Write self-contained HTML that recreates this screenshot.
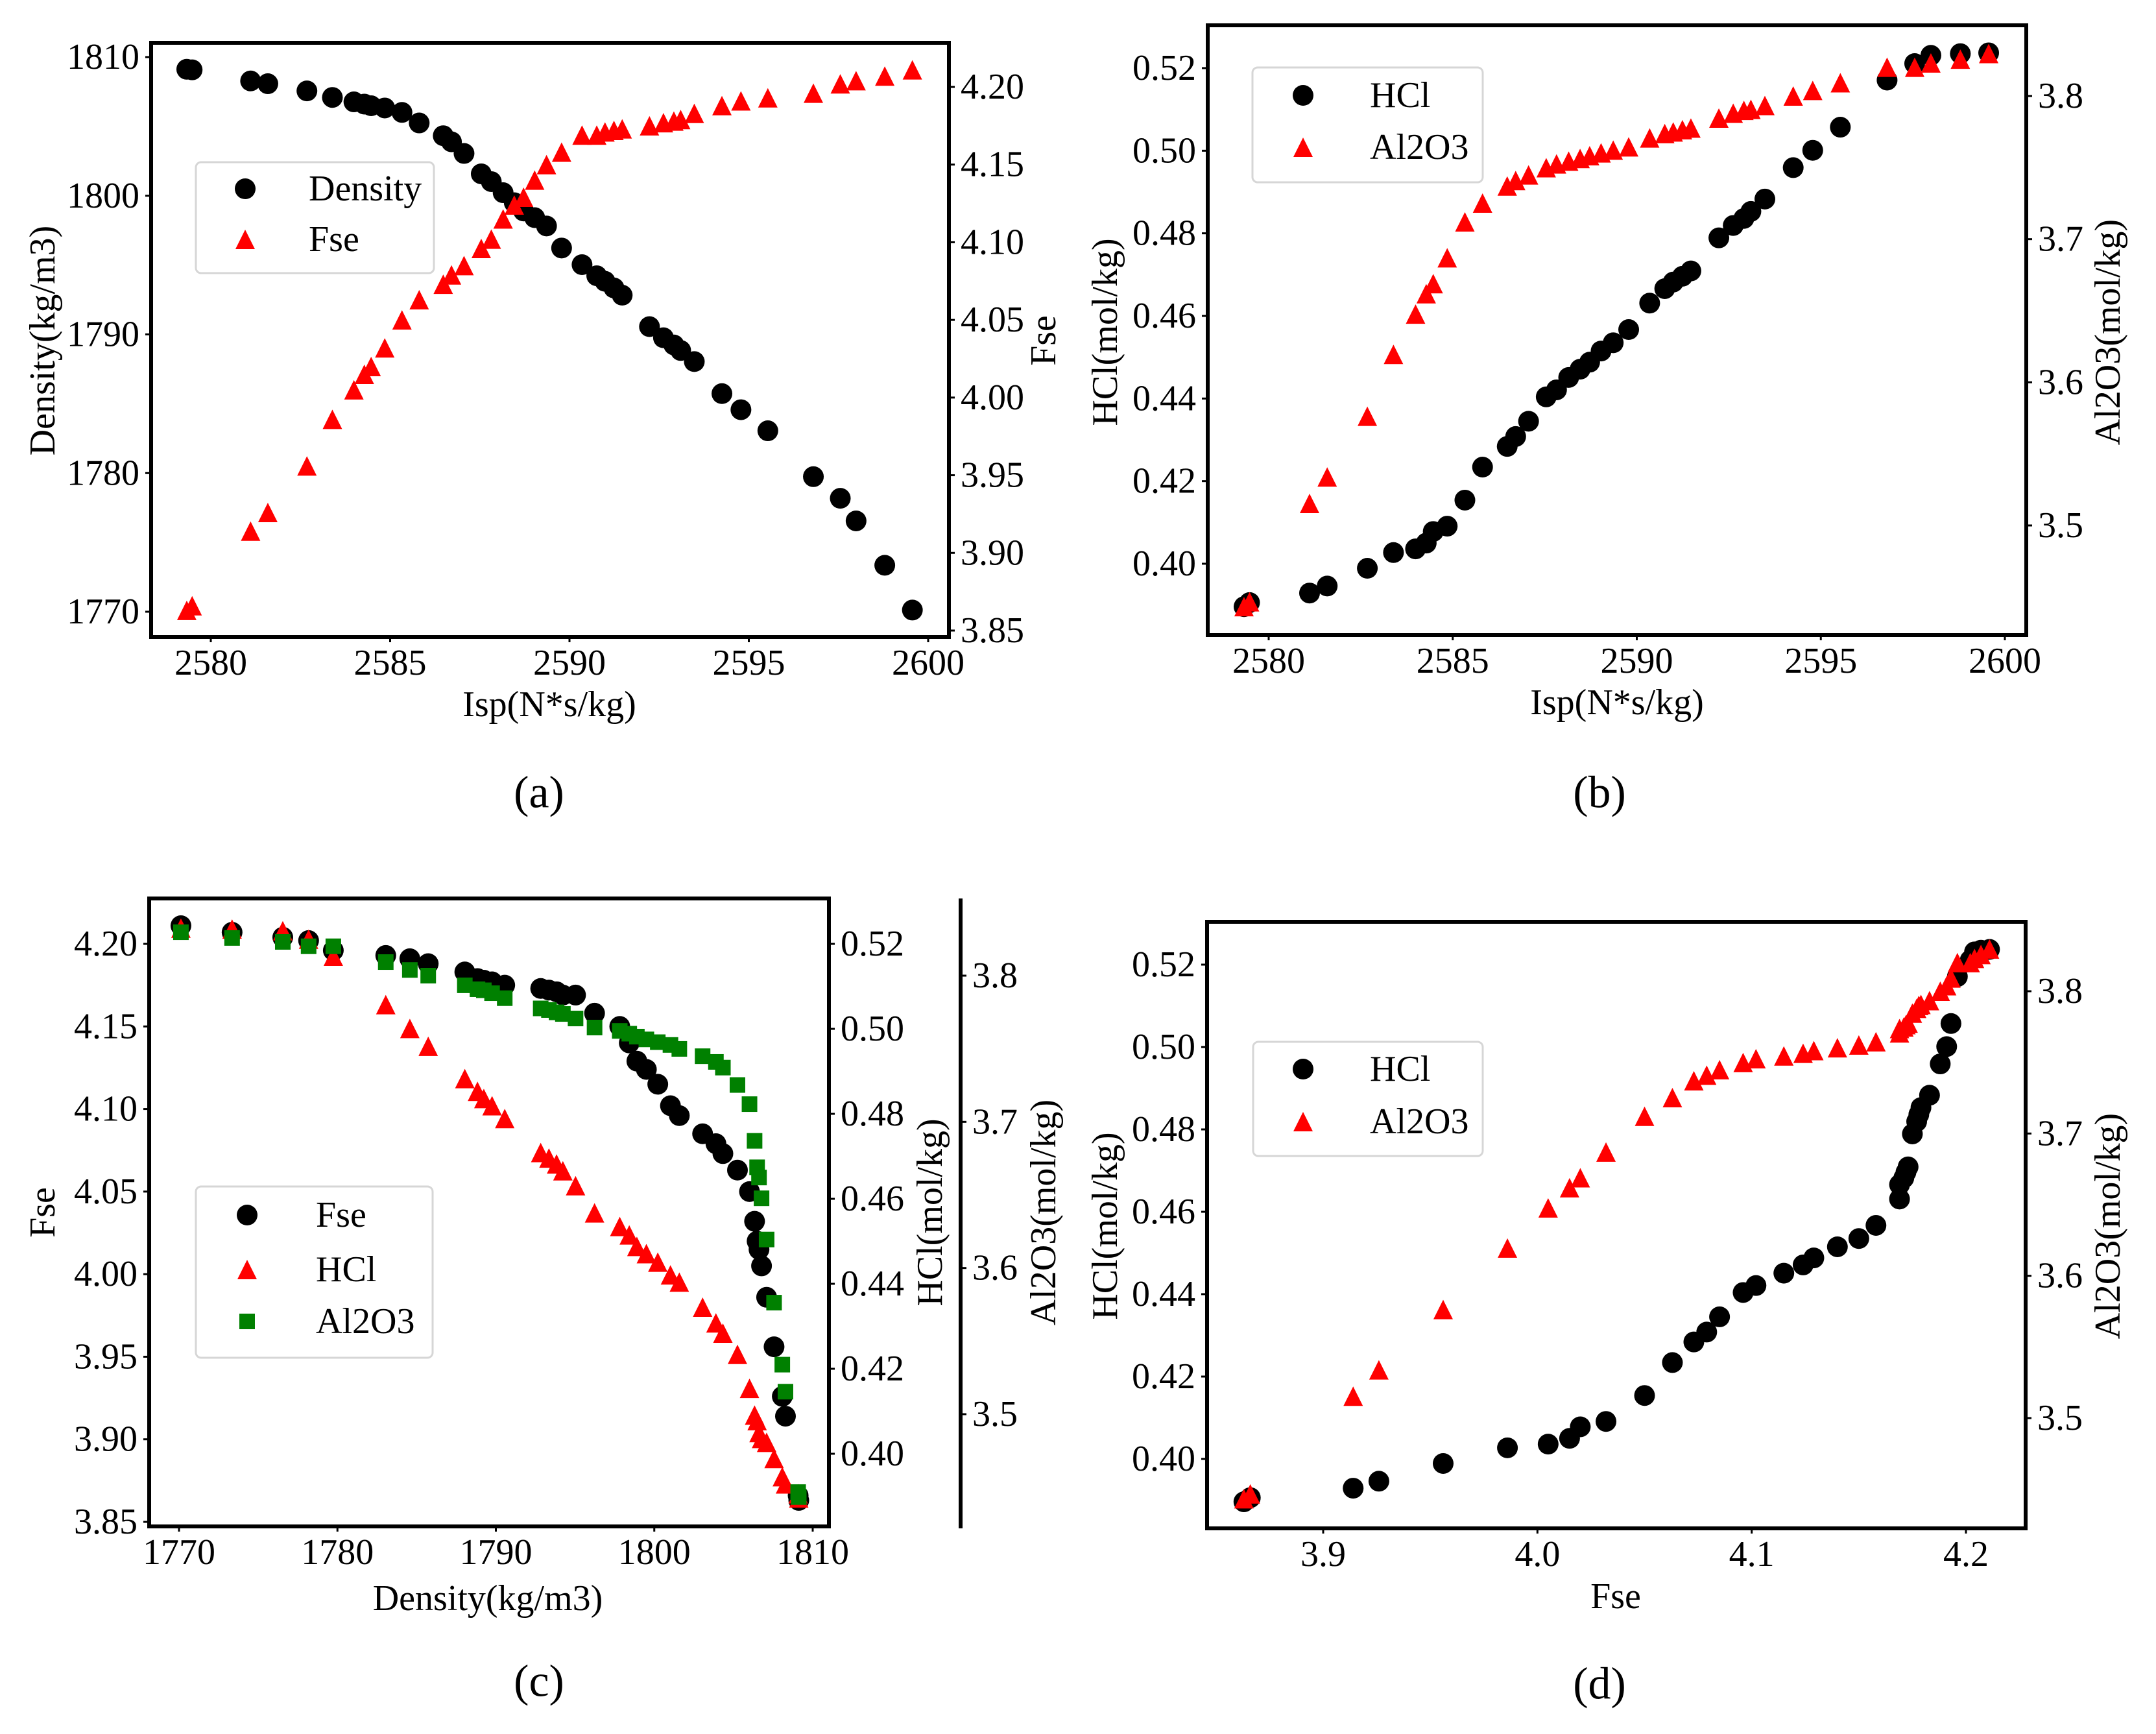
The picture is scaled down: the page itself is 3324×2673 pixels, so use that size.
<!DOCTYPE html>
<html><head><meta charset="utf-8"><style>
html,body{margin:0;padding:0;background:#fff}
svg{display:block;font-family:"Liberation Serif","DejaVu Serif",serif}
svg text{font-family:"Liberation Serif","DejaVu Serif",serif}
</style></head><body>
<svg id="fig" xmlns="http://www.w3.org/2000/svg" width="3324" height="2673" viewBox="0 0 3324 2673" font-family="Liberation Serif, serif">
<rect width="3324" height="2673" fill="#fff"/>
</svg>
<script>
// ---- data (41 design points, sorted by Isp) ----
const isp = [2579.33,2579.48,2581.11,2581.59,2582.68,2583.39,2583.99,2584.28,2584.47,2584.85,2585.33,2585.81,2586.48,2586.71,2587.06,2587.54,2587.82,2588.15,2588.46,2588.72,2589.03,2589.36,2589.78,2590.35,2590.76,2590.99,2591.24,2591.47,2592.23,2592.62,2592.91,2593.10,2593.48,2594.25,2594.78,2595.53,2596.80,2597.55,2597.99,2598.79,2599.56];
const density = [1809.12,1809.08,1808.28,1808.08,1807.56,1807.09,1806.77,1806.61,1806.49,1806.33,1806.01,1805.25,1804.33,1803.89,1803.05,1801.58,1801.02,1800.22,1799.50,1798.90,1798.42,1797.82,1796.23,1795.03,1794.23,1793.83,1793.35,1792.83,1790.56,1789.76,1789.24,1788.84,1788.04,1785.73,1784.57,1783.05,1779.74,1778.18,1776.55,1773.35,1770.12];
const fse = [3.863,3.866,3.914,3.926,3.956,3.986,4.005,4.015,4.020,4.032,4.050,4.063,4.073,4.079,4.085,4.096,4.102,4.115,4.124,4.129,4.140,4.150,4.158,4.169,4.169,4.171,4.172,4.173,4.175,4.177,4.178,4.179,4.183,4.188,4.191,4.193,4.196,4.202,4.204,4.207,4.211];
const hcl = [0.3896,0.3906,0.3929,0.3946,0.3989,0.4027,0.4036,0.4050,0.4078,0.4091,0.4154,0.4234,0.4284,0.4308,0.4345,0.4404,0.4421,0.4451,0.4471,0.4488,0.4515,0.4535,0.4567,0.4631,0.4666,0.4682,0.4696,0.4709,0.4789,0.4819,0.4836,0.4853,0.4883,0.4959,0.5001,0.5057,0.5171,0.5211,0.5231,0.5235,0.5237];
const al2o3 = [3.4433,3.4467,3.5154,3.5339,3.5763,3.6195,3.6477,3.6619,3.6689,3.6870,3.7121,3.7252,3.7371,3.7410,3.7449,3.7499,3.7526,3.7545,3.7564,3.7583,3.7603,3.7622,3.7645,3.7707,3.7738,3.7749,3.7765,3.7776,3.7846,3.7880,3.7900,3.7907,3.7934,3.8000,3.8039,3.8093,3.8201,3.8201,3.8231,3.8258,3.8297];
// ---- tick labels ----
const ispTicks = [2580,2585,2590,2595,2600];
const densityTicks = [1770,1780,1790,1800,1810];
const fseTicks = [3.85,3.90,3.95,4.00,4.05,4.10,4.15,4.20];
const fseTicksD = [3.9,4.0,4.1,4.2];
const hclTicks = [0.40,0.42,0.44,0.46,0.48,0.50,0.52];
const al2o3Ticks = [3.5,3.6,3.7,3.8];

const NS = "http://www.w3.org/2000/svg";
const svg = document.getElementById('fig');
function el(tag, attrs, parent){
  const e = document.createElementNS(NS, tag);
  for (const k in attrs) e.setAttribute(k, attrs[k]);
  (parent||svg).appendChild(e);
  return e;
}
function scale(v0,p0,v1,p1){ return v => p0 + (v - v0) * (p1 - p0) / (v1 - v0); }
const FS = 56;

function txt(parent, x, y, s, anchor, size, rot){
  const t = el('text', {x:x, y:y, 'font-size':size||FS, 'font-family':'Liberation Serif, serif', 'text-anchor':anchor||'middle', 'dominant-baseline':'central', fill:'#000'}, parent);
  if (rot) t.setAttribute('transform', 'rotate(' + rot + ' ' + x + ' ' + y + ')');
  t.textContent = s;
  return t;
}
function marker(g, type, x, y){
  let m;
  if (type === 'circle') m = el('circle', {cx:x, cy:y, r:16, fill:'#000'}, g);
  else if (type === 'tri') m = el('polygon', {points:(x)+','+(y-15)+' '+(x-15)+','+(y+15)+' '+(x+15)+','+(y+15), fill:'#ff0000'}, g);
  else m = el('rect', {x:x-12, y:y-12, width:24, height:24, fill:'#008000'}, g);
  return m;
}
function xTicks(g, box, sx, ticks, dec){
  ticks.forEach(v => {
    const x = sx(v);
    const tk = el('line', {x1:x, x2:x, y1:box[3], y2:box[3]+8, stroke:'#000', 'stroke-width':3}, g);
    
    
    const t = txt(g, x, box[3]+40, v.toFixed(dec), 'middle');
    
    
  });
}
function yTicks(g, xs, side, sy, ticks, dec){
  ticks.forEach(v => {
    const y = sy(v);
    const d = side === 'left' ? -1 : 1;
    const tk = el('line', {x1:xs, x2:xs + d*9, y1:y, y2:y, stroke:'#000', 'stroke-width':3}, g);
    
    
    const t = txt(g, xs + d*18, y, v.toFixed(dec), side === 'left' ? 'end' : 'start');
    
    
  });
}
function frame(g, box){
  const r = el('rect', {x:box[0], y:box[1], width:box[2]-box[0], height:box[3]-box[1], fill:'none', stroke:'#000', 'stroke-width':6}, g);
  
  
}
function legend(g, bx, by, bw, bh, entries, mx, tx, rows){
  const lg = el('g', {}, g);
  
  
  el('rect', {x:bx, y:by, width:bw, height:bh, rx:8, fill:'#fff', 'fill-opacity':0.8, stroke:'#d6d6d6', 'stroke-width':3}, lg);
  entries.forEach((e, i) => {
    const eg = el('g', {}, lg);
    
    
    marker(eg, e[0], mx, rows[i]);
    txt(eg, tx, rows[i], e[1], 'start');
  });
}
function series(g, name, type, xs, ys, sx, sy){
  const sg = el('g', {}, g);
  
  
  for (let i = 0; i < xs.length; i++){
    const m = marker(sg, type, sx(xs[i]), sy(ys[i]));
    
    
  }
}
function panelLabel(g, x, y, s){
  const t = txt(g, x, y, s, 'middle', 70);
  
  
}
function title(g, x, y, s, rot, name){
  const t = txt(g, x, y, s, 'middle', FS, rot);
  
  
}

// ---------- Panel (a) ----------
(function(){
  const g = el('g', {});
  
  
  const box = [233,66,1463,982];
  const sx = scale(2580,325,2600,1431), sL = scale(1810,88,1770,943), sR = scale(4.20,134,3.85,972);
  series(g, 'density-series', 'circle', isp, density, sx, sL);
  series(g, 'fse-series', 'tri', isp, fse, sx, sR);
  frame(g, box);
  xTicks(g, box, sx, ispTicks, 0);
  yTicks(g, box[0], 'left', sL, densityTicks, 0);
  yTicks(g, box[2], 'right', sR, fseTicks, 2);
  title(g, 847, 1086, 'Isp(N*s/kg)', 0, 'x-axis-title');
  title(g, 66, 525, 'Density(kg/m3)', -90, 'y-axis-title');
  title(g, 1609, 525, 'Fse', -90, 'right-y-axis-title');
  legend(g, 302, 250, 367, 171, [['circle','Density'],['tri','Fse']], 378, 476, [291, 369]);
  panelLabel(g, 831, 1222, '(a)');
})();

// ---------- Panel (b) ----------
(function(){
  const g = el('g', {});
  
  
  const box = [1862,39,3124,979];
  const sx = scale(2580,1956,2600,3091), sL = scale(0.52,105,0.40,869), sR = scale(3.8,148,3.5,810);
  series(g, 'hcl-series', 'circle', isp, hcl, sx, sL);
  series(g, 'al2o3-series', 'tri', isp, al2o3, sx, sR);
  frame(g, box);
  xTicks(g, box, sx, ispTicks, 0);
  yTicks(g, box[0], 'left', sL, hclTicks, 2);
  yTicks(g, box[2], 'right', sR, al2o3Ticks, 1);
  title(g, 2493, 1083, 'Isp(N*s/kg)', 0, 'x-axis-title');
  title(g, 1704, 512, 'HCl(mol/kg)', -90, 'y-axis-title');
  title(g, 3250, 512, 'Al2O3(mol/kg)', -90, 'right-y-axis-title');
  legend(g, 1931, 104, 355, 177, [['circle','HCl'],['tri','Al2O3']], 2009, 2112, [147, 227]);
  panelLabel(g, 2466, 1222, '(b)');
})();

// ---------- Panel (c) ----------
(function(){
  const g = el('g', {});
  
  
  const box = [230,1385,1278,2353];
  const sx = scale(1770,276,1810,1253), sL = scale(4.20,1455,3.85,2346);
  const sR1 = scale(0.52,1455,0.40,2241), sR2 = scale(3.8,1504,3.5,2180);
  series(g, 'fse-series', 'circle', density, fse, sx, sL);
  series(g, 'hcl-series', 'tri', density, hcl, sx, sR1);
  series(g, 'al2o3-series', 'square', density, al2o3, sx, sR2);
  frame(g, box);
  const sp = el('line', {x1:1481, x2:1481, y1:1385, y2:2356, stroke:'#000', 'stroke-width':6}, g);
  
  
  xTicks(g, box, sx, densityTicks, 0);
  yTicks(g, box[0], 'left', sL, fseTicks, 2);
  yTicks(g, box[2], 'right', sR1, hclTicks, 2);
  yTicks(g, 1481, 'right', sR2, al2o3Ticks, 1);
  title(g, 752, 2464, 'Density(kg/m3)', 0, 'x-axis-title');
  title(g, 66, 1869, 'Fse', -90, 'y-axis-title');
  title(g, 1434, 1869, 'HCl(mol/kg)', -90, 'hcl-axis-title');
  title(g, 1609, 1869, 'Al2O3(mol/kg)', -90, 'al2o3-axis-title');
  legend(g, 302, 1829, 365, 264, [['circle','Fse'],['tri','HCl'],['square','Al2O3']], 381, 487, [1873, 1957, 2037]);
  panelLabel(g, 831, 2592, '(c)');
})();

// ---------- Panel (d) ----------
(function(){
  const g = el('g', {});
  
  
  const box = [1861,1421,3123,2356];
  const sx = scale(3.9,2040,4.2,3031), sL = scale(0.52,1487,0.40,2249), sR = scale(3.8,1528,3.5,2186);
  series(g, 'hcl-series', 'circle', fse, hcl, sx, sL);
  series(g, 'al2o3-series', 'tri', fse, al2o3, sx, sR);
  frame(g, box);
  xTicks(g, box, sx, fseTicksD, 1);
  yTicks(g, box[0], 'left', sL, hclTicks, 2);
  yTicks(g, box[2], 'right', sR, al2o3Ticks, 1);
  title(g, 2491, 2461, 'Fse', 0, 'x-axis-title');
  title(g, 1704, 1890, 'HCl(mol/kg)', -90, 'y-axis-title');
  title(g, 3250, 1890, 'Al2O3(mol/kg)', -90, 'right-y-axis-title');
  legend(g, 1932, 1606, 354, 176, [['circle','HCl'],['tri','Al2O3']], 2009, 2112, [1648, 1729]);
  panelLabel(g, 2466, 2596, '(d)');
})();
</script>
</body></html>
